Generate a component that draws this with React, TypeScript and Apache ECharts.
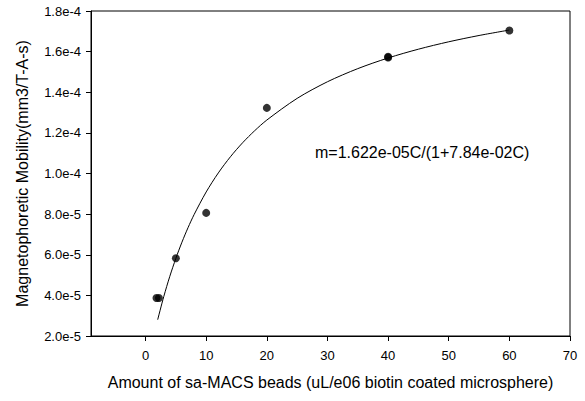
import React, { useEffect, useRef } from "react";
import * as echarts from "echarts";

const xTicks = [0, 10, 20, 30, 40, 50, 60, 70];
const pointX = [1.8, 2.2, 5, 10, 20, 40, 40, 60];
const pointY = [3.87e-5, 3.87e-5, 5.83e-5, 8.06e-5, 1.323e-4, 1.571e-4, 1.575e-4, 1.704e-4];
const curveX = [2, 3, 4, 5, 6, 7, 8, 10, 12, 14, 16, 18, 20, 25, 30, 35, 40, 45, 50, 55, 60];
const curveY = [
  2.804e-5, 3.939e-5, 4.939e-5, 5.826e-5, 6.619e-5, 7.331e-5, 7.974e-5, 9.092e-5, 1.0029e-4,
  1.0826e-4, 1.1512e-4, 1.2108e-4, 1.2632e-4, 1.3699e-4, 1.4517e-4, 1.5163e-4, 1.5687e-4,
  1.612e-4, 1.6484e-4, 1.6794e-4, 1.7062e-4,
];
const equationText = "m=1.622e-05C/(1+7.84e-02C)";
const xTitle = "Amount of sa-MACS beads (uL/e06 biotin coated microsphere)";
const yTitle = "Magnetophoretic Mobility(mm3/T-A-s)";

const FONT = "'Liberation Sans', Arial, sans-serif";

export default function App() {
  const ref = useRef<HTMLDivElement>(null);
  useEffect(() => {
    if (!ref.current) return;
    const chart = echarts.init(ref.current, null, { renderer: "svg" });
    chart.setOption({
      animation: false,
      backgroundColor: "#fff",
      grid: {
        left: 91,
        top: 11,
        right: 15,
        bottom: 65,
        show: true,
        borderColor: "#000",
        borderWidth: 1,
        backgroundColor: "transparent",
      },
      xAxis: {
        type: "value",
        min: -9,
        max: 70,
        name: xTitle,
        nameLocation: "middle",
        nameGap: 38,
        nameTextStyle: { fontFamily: FONT, fontSize: 16, color: "#000" },
        axisLine: { show: true, onZero: false, lineStyle: { color: "#000", width: 1 } },
        axisTick: { show: true, inside: false, length: 5, customValues: xTicks, lineStyle: { color: "#000" } },
        axisLabel: {
          customValues: xTicks,
          fontFamily: FONT,
          fontSize: 13,
          color: "#000",
          margin: 13,
        },
        splitLine: { show: false },
      },
      yAxis: {
        type: "value",
        min: 2e-5,
        max: 1.8e-4,
        interval: 2e-5,
        name: yTitle,
        nameLocation: "middle",
        nameGap: 61,
        nameTextStyle: { fontFamily: FONT, fontSize: 16, color: "#000" },
        axisLine: { show: true, onZero: false, lineStyle: { color: "#000", width: 1 } },
        axisTick: { show: true, inside: false, length: 5, lineStyle: { color: "#000" } },
        axisLabel: {
          fontFamily: FONT,
          fontSize: 13,
          color: "#000",
          margin: 10,
          formatter: (v: number) => v.toExponential(1),
        },
        splitLine: { show: false },
      },
      series: [
        {
          type: "line",
          data: curveX.map((x, i) => [x, curveY[i]]),
          smooth: 0.3,
          showSymbol: false,
          symbol: "none",
          lineStyle: { color: "#000", width: 1 },
          z: 2,
        },
        {
          type: "scatter",
          data: pointX.map((x, i) => [x, pointY[i]]),
          symbol: "circle",
          symbolSize: 8,
          itemStyle: { color: "#000" },
          z: 3,
        },
      ],
      graphic: [
        {
          type: "text",
          left: 315,
          top: 144,
          style: {
            text: equationText,
            fontFamily: FONT,
            fontSize: 16,
            fill: "#000",
          },
        },
      ],
    });
    return () => chart.dispose();
  }, []);
  return <div ref={ref} style={{ width: 585, height: 401, position: "absolute", left: 0, top: 0 }} />;
}
